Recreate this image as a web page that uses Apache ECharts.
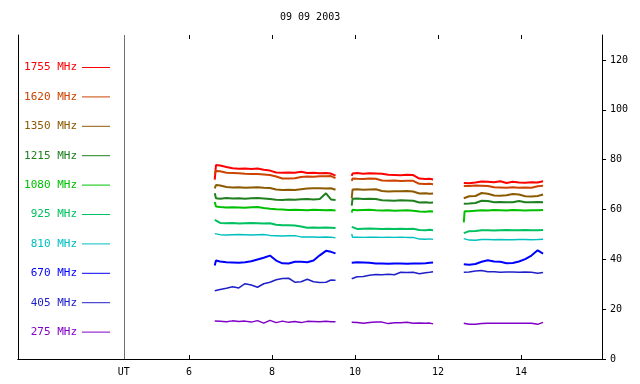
<!DOCTYPE html>
<html>
<head>
<meta charset="utf-8">
<script src="https://cdn.jsdelivr.net/npm/echarts@6/dist/echarts.min.js"></script>
<style>html,body{margin:0;padding:0;background:#fff}#c{width:640px;height:384px}</style>
</head>
<body>
<div id="c"></div>
<script>
const titleText = '09 09 2003';
const seriesNames = ['1755 MHz','1620 MHz','1350 MHz','1215 MHz','1080 MHz','925 MHz','810 MHz','670 MHz','405 MHz','275 MHz'];
const seriesColors = ['#ff0000','#cc4400','#8c5a00','#208020','#00c000','#00c060','#00c0c0','#0000ff','#2020c8','#8000c8'];
const seriesWidths = [2,2,2,2,2,2,1.5,2,1.5,1.5];
const xTickMin = 6, xTickMax = 14, xTickInterval = 2;
const xStartLabel = 'UT';
const yTickInterval = 20;

const seg1Times = [6.62,6.65,6.75,6.9,7.05,7.2,7.35,7.5,7.65,7.8,7.95,8.1,8.25,8.4,8.55,8.7,8.85,9.0,9.15,9.3,9.42,9.53];
const seg2Times = [9.92,9.94,10.05,10.2,10.35,10.5,10.65,10.8,10.95,11.1,11.25,11.4,11.55,11.7,11.8,11.88];
const seg3Times = [12.62,12.64,12.75,12.9,13.05,13.2,13.35,13.5,13.65,13.8,13.95,14.1,14.25,14.4,14.53];

const f1755 = {
  s1:[72,77.8,77.6,77.0,76.5,76.3,76.4,76.2,76.4,75.9,75.6,74.8,74.7,74.8,74.7,75.1,74.6,74.7,74.5,74.6,74.4,73.6],
  s2:[73.5,74.4,74.6,74.3,74.5,74.4,74.3,73.9,73.8,73.7,73.9,73.8,72.4,72.2,72.3,72.0],
  s3:[70.6,70.7,70.5,70.8,71.2,71.1,70.9,71.3,70.6,71.1,70.8,70.7,70.9,70.8,71.3]};
const f1620 = {
  s1:[74.5,75.4,75.3,74.7,74.6,74.5,74.3,74.2,74.2,74.0,73.8,73.2,72.4,72.4,72.5,73.0,73.2,73.1,73.3,73.3,73.4,72.6],
  s2:[71.5,72.4,72.3,72.2,72.4,72.3,71.6,71.5,71.6,71.4,71.5,71.5,70.3,70.2,70.3,70.1],
  s3:[69.4,69.5,69.4,69.6,69.5,69.4,68.9,68.8,68.7,68.9,68.7,68.8,68.7,69.3,69.5]};
const f1350 = {
  s1:[68.5,69.8,69.6,69.0,68.8,68.9,68.7,68.8,68.9,68.7,68.6,68.0,67.8,67.9,67.8,68.1,68.4,68.5,68.5,68.4,68.5,67.9],
  s2:[64.5,68.0,68.1,67.9,68.0,68.1,67.4,67.2,67.3,67.3,67.4,67.2,66.4,66.5,66.3,66.4],
  s3:[64.5,65.2,65.3,65.4,66.6,66.3,65.6,65.5,65.7,66.2,66.0,65.3,65.2,65.4,66.0]};
const f1215 = {
  s1:[66.5,64.5,64.3,64.6,64.4,64.5,64.3,64.5,64.6,64.4,64.2,63.9,63.8,64.0,63.9,64.1,64.2,64.0,64.2,66.5,64.0,63.8],
  s2:[61.5,64.3,64.4,64.2,64.3,64.2,63.7,63.6,63.5,63.7,63.6,63.5,62.8,62.9,62.7,62.8],
  s3:[62.3,62.5,62.4,62.6,63.5,63.4,62.9,63.0,62.9,62.9,63.4,62.9,62.9,63.0,62.9]};
const f1080 = {
  s1:[63.0,61.2,61.0,60.8,60.9,60.8,60.7,60.9,61.0,60.6,60.3,60.1,60.0,59.8,59.9,59.8,59.7,59.9,59.8,59.7,59.8,59.6],
  s2:[58.8,59.9,59.7,59.8,59.9,59.7,59.6,59.7,59.5,59.6,59.7,59.5,59.2,59.1,59.3,59.2],
  s3:[54.8,59.3,59.3,59.5,59.7,59.6,59.8,59.7,59.6,59.8,59.7,59.6,59.7,59.7,59.8]};
const f925 = {
  s1:[55.8,55.4,54.6,54.5,54.6,54.4,54.5,54.6,54.5,54.4,54.5,53.9,53.7,53.7,53.6,53.2,52.7,52.8,52.7,52.8,52.7,52.6],
  s2:[53.0,52.3,52.2,52.3,52.4,52.3,52.2,52.3,52.2,52.3,52.2,52.3,51.8,51.7,51.9,51.7],
  s3:[50.5,51.3,51.3,51.4,51.7,51.7,51.6,51.7,51.8,51.7,51.7,51.8,51.7,51.7,51.8]};
const f810 = {
  s1:[50.3,49.9,49.9,49.8,49.9,50.0,49.9,49.8,49.9,50.0,49.6,49.5,49.4,49.5,49.5,49.0,49.0,49.0,48.9,49.0,48.9,48.6],
  s2:[50.2,48.9,48.9,48.8,48.9,48.9,48.8,48.9,48.8,48.9,48.8,48.8,48.1,48.0,48.2,48.0],
  s3:[48.3,47.6,47.7,47.6,47.9,47.9,47.8,47.9,47.8,47.8,47.9,47.9,47.8,47.9,48.0]};
const f670 = {
  s1:[37.5,39.5,39.1,38.8,38.7,38.6,38.8,39.2,39.9,40.6,41.5,39.5,38.4,38.3,39.0,39.0,38.8,39.5,41.6,43.4,43.0,42.4],
  s2:[38.6,38.7,38.8,38.7,38.6,38.3,38.3,38.2,38.3,38.3,38.2,38.3,38.3,38.4,38.6,38.7],
  s3:[38.0,38.0,37.8,38.1,39.0,39.6,39.1,39.0,38.4,38.5,39.1,40.1,41.5,43.6,42.3]};
const f405 = {
  s1:[27.4,27.4,27.9,28.4,29.0,28.5,30.2,29.7,28.8,30.2,30.8,31.8,32.3,32.4,30.8,31.0,32.0,31.0,30.7,30.8,31.7,31.6],
  s2:[32.2,32.4,33.0,33.1,33.6,33.9,33.8,34.0,33.8,34.8,34.7,34.8,34.2,34.6,34.8,35.0],
  s3:[34.8,34.8,34.9,35.3,35.5,35.0,35.0,34.8,34.9,34.9,34.8,34.9,34.8,34.4,34.7]};
const f275 = {
  s1:[15.2,15.2,15.1,14.9,15.3,15.0,15.2,14.8,15.4,14.4,15.5,14.6,15.2,14.7,15.0,14.6,15.1,15.0,14.9,15.1,14.9,14.9],
  s2:[14.7,14.7,14.6,14.3,14.6,14.8,14.8,14.2,14.5,14.5,14.7,14.3,14.4,14.3,14.4,14.1],
  s3:[14.3,14.3,13.9,13.9,14.2,14.3,14.3,14.3,14.3,14.3,14.3,14.3,14.3,13.9,14.7]};
const fluxes = [f1755,f1620,f1350,f1215,f1080,f925,f810,f670,f405,f275];

const gapTimes = [9.7, 12.3];
function build(f){
  const out = [];
  seg1Times.forEach((t,i)=>out.push([t,f.s1[i]]));
  out.push([gapTimes[0],'-']);
  seg2Times.forEach((t,i)=>out.push([t,f.s2[i]]));
  out.push([gapTimes[1],'-']);
  seg3Times.forEach((t,i)=>out.push([t,f.s3[i]]));
  return out;
}

const FONT = 'DejaVu Sans Mono';
const xMin = 1.88, xMax = 15.95, dividerX = 4.43;
// pixel frame
const W = 640, boxL = 18, boxR = 602, boxT = 35, boxB = 359;
const pxPerUnit = (boxR - boxL) / (xMax - xMin);
const tickGridLeft = boxL + (xTickMin - xMin) * pxPerUnit;
const tickGridRight = W - (boxL + (xTickMax - xMin) * pxPerUnit);

const series = seriesNames.map((n,i)=>({
  name:n, type:'line', yAxisIndex:1, xAxisIndex:0,
  data: build(fluxes[i]), showSymbol:false, symbol:'none', connectNulls:false,
  lineStyle:{color:seriesColors[i], width:seriesWidths[i]}, itemStyle:{color:seriesColors[i]},
  animation:false, silent:true
}));
series[0].markLine = {silent:true, symbol:'none', animation:false, label:{show:false},
  lineStyle:{color:'#707070', type:'solid', width:1}, data:[{xAxis:dividerX}]};

const tickAxisCommon = {
  type:'value', gridIndex:1, min:xTickMin, max:xTickMax, interval:xTickInterval,
  axisLine:{show:false},
  axisTick:{show:true, inside:true, length:4, lineStyle:{color:'#000'}},
  splitLine:{show:false}
};

const chart = echarts.init(document.getElementById('c'), null, {renderer:'canvas'});
chart.setOption({
  backgroundColor:'#ffffff',
  animation:false,
  title:{text:titleText, left:280, top:12, padding:0,
    textStyle:{fontFamily:FONT, fontSize:10, fontWeight:'normal', color:'#000'}},
  legend:{
    orient:'vertical', right:530, top:62, padding:0, align:'right',
    itemWidth:28, itemHeight:1, itemGap:18.4, icon:'rect', selectedMode:false,
    textStyle:{fontFamily:FONT, fontSize:11},
    data: seriesNames.map((n,i)=>({name:n, textStyle:{color:seriesColors[i]}, itemStyle:{color:seriesColors[i]}}))
  },
  grid:[
    {left:boxL, right:W-boxR, top:boxT, bottom:384-boxB, containLabel:false},
    {left:tickGridLeft, right:tickGridRight, top:boxT, bottom:384-boxB, containLabel:false}
  ],
  xAxis:[{
    type:'value', gridIndex:0, position:'bottom', min:xMin, max:xMax,
    axisLine:{show:true, lineStyle:{color:'#000', width:1}},
    axisTick:{show:false},
    axisLabel:{show:true, margin:8, customValues:[dividerX],
      formatter:()=>xStartLabel,
      fontFamily:FONT, fontSize:10, color:'#000'},
    splitLine:{show:false}
  },{
    type:'value', gridIndex:0, position:'top', min:xMin, max:xMax,
    axisLine:{show:true, lineStyle:{color:'#000', width:1}},
    axisTick:{show:false}, axisLabel:{show:false}, splitLine:{show:false}
  },
  Object.assign({}, tickAxisCommon, {position:'bottom',
    axisLabel:{show:true, margin:8, fontFamily:FONT, fontSize:10, color:'#000'}}),
  Object.assign({}, tickAxisCommon, {position:'top', axisLabel:{show:false}})
  ],
  yAxis:[{
    type:'value', gridIndex:0, position:'left', min:0, max:130,
    axisLine:{show:true, lineStyle:{color:'#000', width:1}},
    axisTick:{show:false}, axisLabel:{show:false}, splitLine:{show:false}
  },{
    type:'value', gridIndex:0, position:'right', min:0, max:130, interval:yTickInterval,
    axisLine:{show:true, lineStyle:{color:'#000', width:1}},
    axisTick:{show:true, inside:false, length:4, lineStyle:{color:'#000'}},
    axisLabel:{show:true, margin:8, fontFamily:FONT, fontSize:10, color:'#000',
      showMaxLabel:false},
    splitLine:{show:false}
  },{
    type:'value', gridIndex:1, min:0, max:130, show:false
  }],
  series: series
});
</script>
</body>
</html>
